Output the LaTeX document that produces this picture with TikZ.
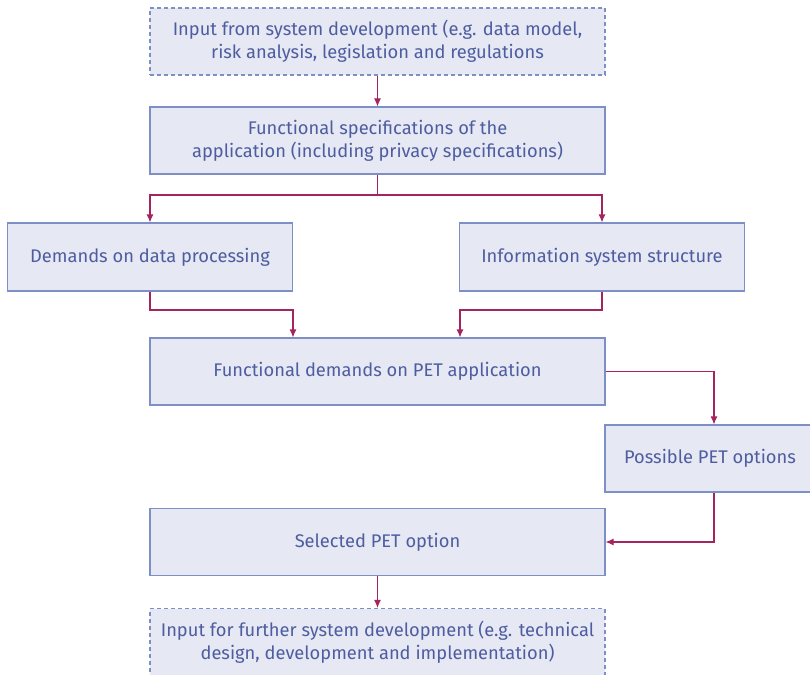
\documentclass[tikz,border=0pt]{standalone}
\usepackage{fontspec}
\setmainfont{Fira Sans}
\usetikzlibrary{arrows.meta,calc}
\definecolor{boxfill}{HTML}{E6E8F3}
\definecolor{boxline}{HTML}{7E8FC6}
\definecolor{boxtext}{HTML}{4D5DA0}
\definecolor{flow}{HTML}{A3245E}
\begin{document}
\begin{tikzpicture}[x=1pt,y=-1pt,
  box/.style={draw=boxline,fill=boxfill,line width=1.1pt,text=boxtext,
    align=center,inner sep=0pt,font=\fontsize{18.3}{23}\selectfont},
  wide/.style={box,minimum width=455pt,minimum height=67pt},
  side/.style={box,minimum width=285pt,minimum height=68pt},
  ioframe/.style={dash pattern=on 4pt off 3pt},
  flowline/.style={draw=flow,line width=1.1pt,-{Latex[length=8pt,width=7pt]}}]
\useasboundingbox (0,0) rectangle (810,674);
\begin{scope}
\clip (0,0) rectangle (810,674);
\node[wide,ioframe] (src) at (377.5,41.5)
  {Input from system development (e.g. data model,\\risk analysis, legislation and regulations};
\node[wide] (spec) at (377.5,140.5)
  {Functional specifications of the\\application (including privacy specifications)};
\node[side] (proc) at (150,257) {Demands on data processing};
\node[side] (struct) at (602,257) {Information system structure};
\node[wide] (func) at (377.5,371.5) {\raisebox{2pt}{Functional demands on PET application}};
\node[box,minimum width=218pt,minimum height=67pt] (opts) at (714,458.5)
  {\hspace*{-8pt}Possible PET options};
\node[wide] (sel) at (377.5,542) {Selected PET option};
\node[wide,ioframe] (out) at (377.5,642)
  {Input for further system development (e.g. technical\\design, development and implementation)};
\end{scope}
% branch points of the connectors
\coordinate (split) at (377.5,195);
\coordinate (joinL) at (293,310);
\coordinate (joinR) at (460,310);
\draw[flowline] (src) -- (spec);
\draw[flowline] (spec.south) -- (split) -| (proc.north);
\draw[flowline] (split) -| (struct.north);
\draw[flowline] (proc.south) |- (joinL) -- (joinL |- func.north);
\draw[flowline] (struct.south) |- (joinR) -- (joinR |- func.north);
\draw[flowline] (func.east) -| (opts.north);
\draw[flowline] (opts.south) |- (sel.east);
\draw[flowline] (sel) -- (out);
\end{tikzpicture}
\end{document}
